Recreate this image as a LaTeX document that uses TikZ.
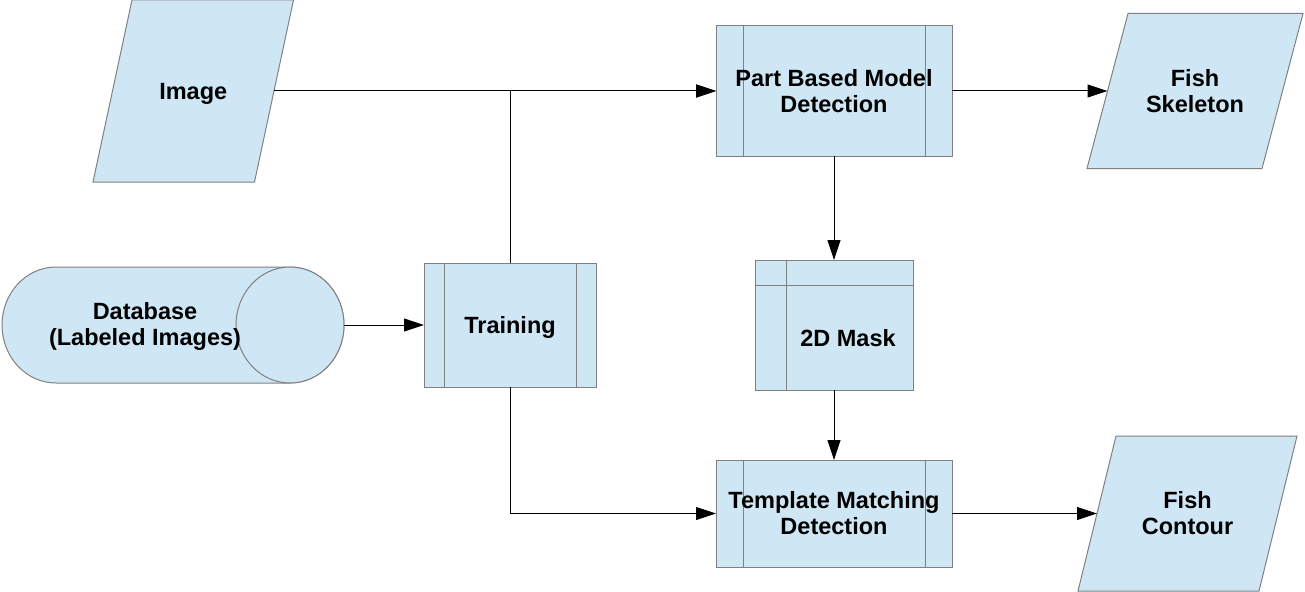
\documentclass[tikz,border=0pt]{standalone}
\usepackage{fontspec}
\setmainfont{Liberation Sans}
\usetikzlibrary{positioning, arrows.meta, backgrounds}
\definecolor{xblue}{HTML}{CFE7F5}
\definecolor{xgray}{HTML}{808080}
\tikzset{
	arrow/.style={line width=1pt, ->, >={Triangle[length=20pt, width=13pt]}},
	label text/.style={align=center, outer sep=0pt, font=\bfseries\fontsize{23.5}{26}\selectfont},
	box/.style={label text, fill=xblue, draw=xgray, line width=1pt},
	outline/.style={fill=xblue, draw=xgray, line width=1pt},
	process/.style={box, path picture={
		\draw[xgray, line width=1pt] ([xshift=#1]path picture bounding box.north west) -- ([xshift=#1]path picture bounding box.south west);
		\draw[xgray, line width=1pt] ([xshift=-#1]path picture bounding box.north east) -- ([xshift=-#1]path picture bounding box.south east);
	}},
	data/.style={label text, inner sep=0pt},
}

\begin{document}
\begin{tikzpicture}[x=1pt, y=-1pt]
	\useasboundingbox (0,0) rectangle (1305,591);

	\node[data, minimum width=161.5pt, minimum height=182pt, text depth=0pt] (img) at (193.25,91) {Image};
	\node[data, minimum width=175pt, minimum height=155pt] (skel) at (1195,91) {Fish\\Skeleton};
	\node[data, minimum width=181pt, minimum height=155pt] (cont) at (1187.5,513.5) {Fish\\Contour};

	\node[process=27pt, minimum width=236pt, minimum height=130pt] (pbm) at (834,91) {Part Based Model\\Detection};
	\node[process=27pt, minimum width=236pt, minimum height=107pt] (tmd) at (834,513.5) {Template Matching\\Detection};
	\node[process=20pt, minimum width=172pt, minimum height=124pt, text depth=0pt] (train) at (510,325) {Training};

	\node[box, minimum width=158pt, minimum height=130pt,
		label={[label text, name=masktext, xshift=14pt, yshift=-13pt]center:2D Mask},
		path picture={
			\draw[xgray, line width=1pt] ([xshift=31pt]path picture bounding box.north west) -- ([xshift=31pt]path picture bounding box.south west);
			\draw[xgray, line width=1pt] ([yshift=-25pt]path picture bounding box.north west) -- ([yshift=-25pt]path picture bounding box.north east);
		}] (mask) at (834,325) {};

	\node[data, minimum width=342pt, minimum height=116pt,
		label={[label text, name=dbtext, xshift=-28pt, yshift=-1pt]center:Database\\(Labeled Images)}] (db) at (173,325) {};

	% slanted input/output boxes and the database drum
	\begin{scope}[on background layer]
		\foreach \n/\s in {img/19.5, skel/20.5, cont/19}
			\draw[outline] ([xshift=\s pt]\n.north west) -- ([xshift=\s pt]\n.north east)
				-- ([xshift=-\s pt]\n.south east) -- ([xshift=-\s pt]\n.south west) -- cycle;
		\draw[outline] ([xshift=54pt]db.north west) -- ([xshift=-54pt]db.north east)
			arc[start angle=90, end angle=-90, x radius=54pt, y radius=58pt]
			-- ([xshift=54pt]db.south west)
			arc[start angle=270, end angle=90, x radius=54pt, y radius=58pt] -- cycle;
		\draw[outline] ([xshift=-54pt]db.east) ellipse [x radius=54pt, y radius=58pt];
	\end{scope}

	\draw[arrow] (img) -- (pbm);
	\draw[arrow] (train.north) |- (pbm.west);
	\draw[arrow] (db) -- (train);
	\draw[arrow] (train.south) |- (tmd.west);
	\draw[arrow] (pbm) -- (mask);
	\draw[arrow] (mask) -- (tmd);
	\draw[arrow] (pbm) -- (skel);
	\draw[arrow] (tmd) -- (cont);
\end{tikzpicture}
\end{document}
